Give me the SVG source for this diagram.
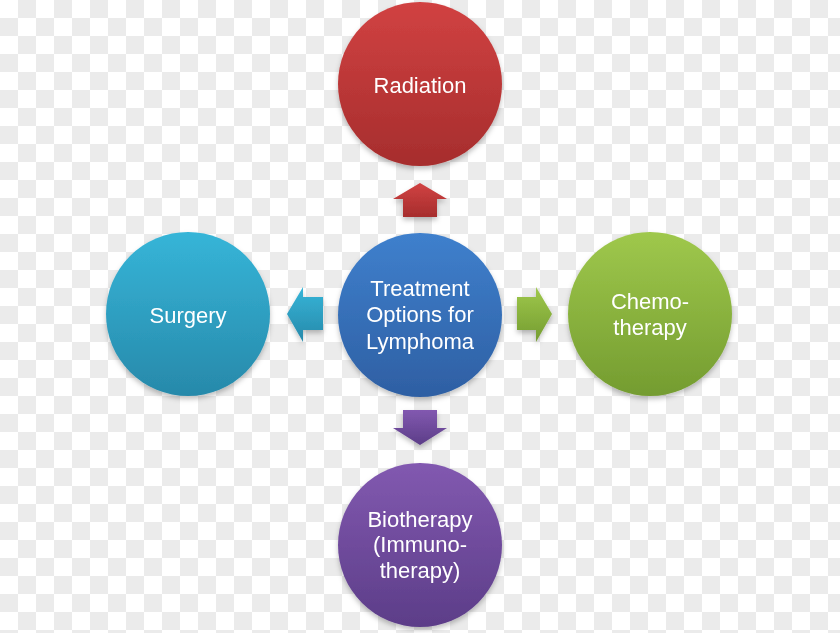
<svg xmlns="http://www.w3.org/2000/svg" width="840" height="633" viewBox="0 0 840 633">
<style>
.t{font-family:"Liberation Sans",Arial,sans-serif;font-size:22px;fill:#ffffff;text-anchor:middle}
</style>
<defs>
<pattern id="chk" width="36" height="36" patternUnits="userSpaceOnUse">
<rect width="36" height="36" fill="#ffffff"/>
<rect x="18" y="0" width="18" height="18" fill="#ebebeb"/>
<rect x="0" y="18" width="18" height="18" fill="#ebebeb"/>
</pattern>
<linearGradient id="gRed" x1="0" y1="0" x2="0" y2="1"><stop offset="0" stop-color="#d14242"/><stop offset="1" stop-color="#a62d2d"/></linearGradient>
<linearGradient id="gBlue" x1="0" y1="0" x2="0" y2="1"><stop offset="0" stop-color="#3f80cd"/><stop offset="1" stop-color="#2e5fa3"/></linearGradient>
<linearGradient id="gTeal" x1="0" y1="0" x2="0" y2="1"><stop offset="0" stop-color="#36b5d8"/><stop offset="1" stop-color="#2789aa"/></linearGradient>
<linearGradient id="gGreen" x1="0" y1="0" x2="0" y2="1"><stop offset="0" stop-color="#9fc84c"/><stop offset="1" stop-color="#749c30"/></linearGradient>
<linearGradient id="gPurple" x1="0" y1="0" x2="0" y2="1"><stop offset="0" stop-color="#8259b0"/><stop offset="1" stop-color="#5c3d88"/></linearGradient>
<filter id="sh" x="-20%" y="-20%" width="140%" height="150%">
<feDropShadow dx="0" dy="3" stdDeviation="2.5" flood-color="#000000" flood-opacity="0.25"/>
</filter>
</defs>
<rect width="840" height="633" fill="url(#chk)"/>
<g id="connectors" filter="url(#sh)">
<polygon points="420,183 447,199 437,199 437,217 403,217 403,199 393,199" fill="url(#gRed)"/>
<polygon points="287,314 303,287 303,297 323,297 323,330 303,330 303,342" fill="url(#gTeal)"/>
<polygon points="552,314 536,287 536,297 517,297 517,330 536,330 536,342" fill="url(#gGreen)"/>
<polygon points="420,445 447,428 437,428 437,410 403,410 403,428 393,428" fill="url(#gPurple)"/>
</g>
<g id="radiation" filter="url(#sh)">
<circle cx="420" cy="84" r="82" fill="url(#gRed)"/>
<text class="t" x="420" y="93">Radiation</text>
</g>
<g id="center" filter="url(#sh)">
<circle cx="420" cy="315" r="82" fill="url(#gBlue)"/>
<text class="t" x="420" y="296">Treatment</text>
<text class="t" x="420" y="322">Options for</text>
<text class="t" x="420" y="349">Lymphoma</text>
</g>
<g id="surgery" filter="url(#sh)">
<circle cx="188" cy="314" r="82" fill="url(#gTeal)"/>
<text class="t" x="188" y="323">Surgery</text>
</g>
<g id="chemo" filter="url(#sh)">
<circle cx="650" cy="314" r="82" fill="url(#gGreen)"/>
<text class="t" x="650" y="309">Chemo-</text>
<text class="t" x="650" y="335">therapy</text>
</g>
<g id="biotherapy" filter="url(#sh)">
<circle cx="420" cy="545" r="82" fill="url(#gPurple)"/>
<text class="t" x="420" y="527">Biotherapy</text>
<text class="t" x="420" y="552">(Immuno-</text>
<text class="t" x="420" y="578">therapy)</text>
</g>
</svg>
